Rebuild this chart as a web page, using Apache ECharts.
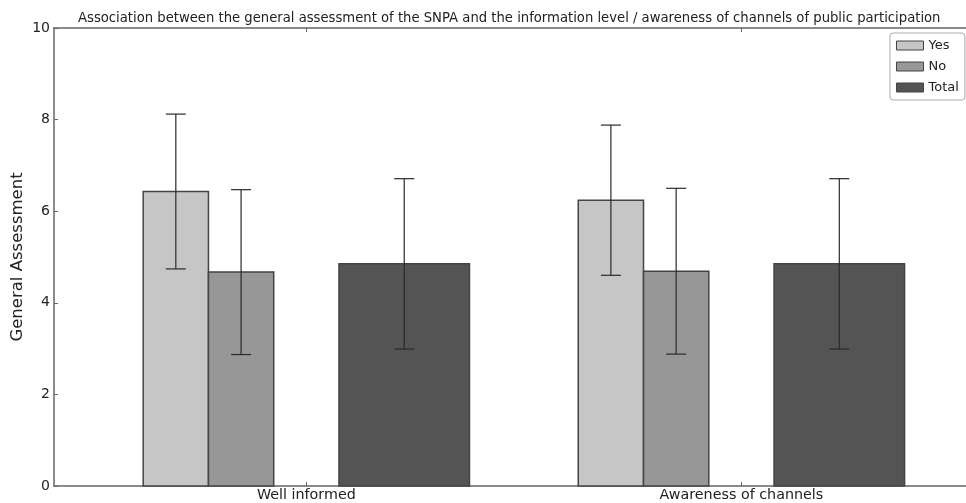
<!DOCTYPE html>
<html>
<head>
<meta charset="utf-8">
<script src="https://cdn.jsdelivr.net/npm/echarts@6/dist/echarts.min.js"></script>
<style>
  html, body { margin: 0; padding: 0; background: #fff; }
  #chart { width: 966px; height: 503px; }
</style>
</head>
<body>
<div id="chart"></div>
<script>
const categories = ['Well informed', 'Awareness of channels'];
const seriesNames = ['Yes', 'No', 'Total'];
const yesMeans = [6.43, 6.24];
const yesSd = [1.69, 1.64];
const noMeans = [4.67, 4.69];
const noSd = [1.80, 1.81];
const totalMeans = [4.85, 4.85];
const totalSd = [1.86, 1.86];
const yTicks = [0, 2, 4, 6, 8, 10];

// bar layout (in x-axis units, one unit per category)
const layout = {
  Yes: { offset: -0.30, width: 0.15, fill: '#c6c6c6' },
  No: { offset: -0.15, width: 0.15, fill: '#979797' },
  Total: { offset: 0.225, width: 0.30, fill: '#545454' }
};
const edgeColor = '#444';
const errColor = '#2a2a2a';

function makeSeries(name, means, sds) {
  const cfg = layout[name];
  return {
    name: name,
    type: 'custom',
    itemStyle: { color: cfg.fill, borderColor: edgeColor },
    data: means.map((m, i) => [i, m, sds[i]]),
    encode: { x: 0, y: 1 },
    renderItem: function (params, api) {
      const idx = api.value(0);
      const mean = api.value(1);
      const sd = api.value(2);
      const cx = idx + cfg.offset;
      const p0 = api.coord([cx - cfg.width / 2, mean]);
      const p1 = api.coord([cx + cfg.width / 2, 0]);
      const top = api.coord([cx, mean + sd]);
      const bot = api.coord([cx, mean - sd]);
      const cap = 10;
      const errStyle = { stroke: errColor, lineWidth: 1.2 };
      return {
        type: 'group',
        children: [
          {
            type: 'rect',
            shape: { x: p0[0], y: p0[1], width: p1[0] - p0[0], height: p1[1] - p0[1] },
            style: { fill: cfg.fill, stroke: edgeColor, lineWidth: 1.5 }
          },
          { type: 'line', shape: { x1: top[0], y1: top[1], x2: bot[0], y2: bot[1] }, style: errStyle },
          { type: 'line', shape: { x1: top[0] - cap, y1: top[1], x2: top[0] + cap, y2: top[1] }, style: errStyle },
          { type: 'line', shape: { x1: bot[0] - cap, y1: bot[1], x2: bot[0] + cap, y2: bot[1] }, style: errStyle }
        ]
      };
    }
  };
}

const chart = echarts.init(document.getElementById('chart'), null, { renderer: 'canvas' });
const font = 'DejaVu Sans';
const catTicks = categories.map((c, i) => i);

const option = {
  animation: false,
  backgroundColor: '#fff',
  textStyle: { fontFamily: font },
  title: {
    text: 'Association between the general assessment of the SNPA and the information level / awareness of channels of public participation',
    left: 73,
    top: 7,
    textStyle: { fontFamily: font, fontSize: 13.2, fontWeight: 'normal', color: '#222' }
  },
  legend: {
    orient: 'vertical',
    left: 890,
    top: 33,
    padding: [6, 6, 6, 6],
    itemWidth: 27,
    itemHeight: 9,
    itemGap: 8,
    backgroundColor: '#fff',
    borderColor: '#aaa',
    borderWidth: 1,
    borderRadius: 3,
    textStyle: { fontFamily: font, fontSize: 13, color: '#222' },
    data: seriesNames.map(n => ({
      name: n,
      icon: 'rect',
      itemStyle: { color: layout[n].fill, borderColor: edgeColor, borderWidth: 1 }
    }))
  },
  grid: { left: 54, right: -6, top: 28, bottom: 17, outerBoundsMode: 'none', containLabel: false },
  xAxis: [
    {
      type: 'value',
      min: -0.58,
      max: 1.53,
      splitLine: { show: false },
      axisLine: { show: true, onZero: false, lineStyle: { color: '#666', width: 1.5 } },
      axisTick: { show: true, inside: true, length: 4, customValues: catTicks, lineStyle: { color: '#666' } },
      axisLabel: {
        customValues: catTicks,
        margin: 2,
        fontFamily: font,
        fontSize: 14.3,
        color: '#222',
        formatter: v => categories[Math.round(v)] || ''
      }
    },
    {
      type: 'value',
      position: 'top',
      min: -0.58,
      max: 1.53,
      splitLine: { show: false },
      axisLine: { show: true, onZero: false, lineStyle: { color: '#666', width: 1.5 } },
      axisTick: { show: true, inside: true, length: 4, customValues: catTicks, lineStyle: { color: '#666' } },
      axisLabel: { show: false }
    }
  ],
  yAxis: {
    type: 'value',
    min: 0,
    max: 10,
    interval: 2,
    name: 'General Assessment',
    nameLocation: 'middle',
    nameGap: 28,
    nameMoveOverlap: false,
    nameTextStyle: { fontFamily: font, fontSize: 16.5, color: '#222' },
    splitLine: { show: false },
    axisLine: { show: true, onZero: false, lineStyle: { color: '#666', width: 1.5 } },
    axisTick: { show: true, inside: true, length: 4, lineStyle: { color: '#666' } },
    axisLabel: {
      margin: 4,
      fontFamily: font,
      fontSize: 14,
      color: '#222',
      formatter: v => (yTicks.indexOf(v) >= 0 ? String(v) : '')
    }
  },
  series: [
    makeSeries('Yes', yesMeans, yesSd),
    makeSeries('No', noMeans, noSd),
    makeSeries('Total', totalMeans, totalSd)
  ]
};

chart.setOption(option);
</script>
</body>
</html>
